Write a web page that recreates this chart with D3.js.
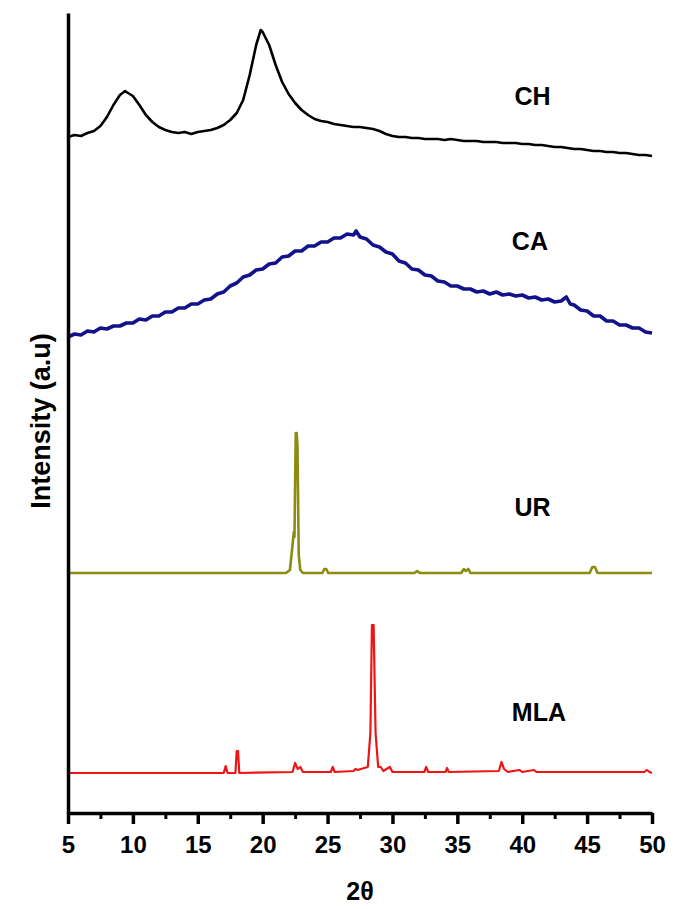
<!DOCTYPE html>
<html>
<head>
<meta charset="utf-8">
<script src="https://cdn.jsdelivr.net/npm/d3@7"></script>
<style>
  html, body { margin: 0; padding: 0; background: #ffffff; }
  svg { display: block; font-family: "Liberation Sans", Arial, sans-serif; }
</style>
</head>
<body>
<svg id="chart" width="673" height="909"></svg>
<script>
// ---------------- DATA (2θ, intensity a.u. incl. stacking offset) ----------------
const seriesNames = ["CH", "CA", "UR", "MLA"];
const xTicks = [5, 10, 15, 20, 25, 30, 35, 40, 45, 50];
const xMinorTicks = [7.5, 12.5, 17.5, 22.5, 27.5, 32.5, 37.5, 42.5, 47.5];

const CH = [
  [5,676],[5.5,678],[6,677],[6.5,680],[7,682],[7.5,687],[8,696],[8.5,708],[9,718],[9.4,722],
  [9.5,721],[10,717],[10.5,708],[11,698],[11.5,691],[12,686],[12.5,683],[13,681],[13.5,680],
  [14,681],[14.5,679],[15,681],[15.5,682],[16,683],[16.5,685],[17,688],[17.5,693],[18,700],
  [18.5,713],[19,738],[19.5,768],[19.85,783],[20,781],[20.5,768],[21,748],[21.5,731],[22,719],
  [22.5,710],[23,703],[23.5,698],[24,694],[24.5,692],[25,691],[25.5,689],[26,688],[26.5,687],
  [27,686],[27.5,686],[28,685],[28.5,684],[29,682],[29.5,679],[30,677],[30.5,676],[31,676],
  [31.5,675],[32,675],[32.5,674],[33,674],[33.5,674],[34,673],[34.5,674],[35,673],[35.5,672],
  [36,672],[36.5,672],[37,671],[37.5,671],[38,671],[38.5,670],[39,670],[39.5,670],[40,669],
  [40.5,669],[41,668],[41.5,668],[42,667],[42.5,666],[43,666],[43.5,665],[44,664],[44.5,664],
  [45,663],[45.5,662],[46,662],[46.5,661],[47,661],[47.5,660],[48,660],[48.5,659],[49,658],
  [49.5,658],[50,657]
];

const CA = [
  [5,476],[5.5,479],[6,478],[6.5,482],[7,481],[7.5,485],[8,484],[8.5,487],[9,487],[9.5,490],
  [10,490],[10.5,494],[11,493],[11.5,497],[12,497],[12.5,501],[13,501],[13.5,505],[14,505],
  [14.5,509],[15,509],[15.5,513],[16,514],[16.5,519],[17,521],[17.5,527],[18,530],[18.5,536],
  [19,538],[19.5,543],[20,544],[20.5,549],[21,550],[21.5,556],[22,557],[22.5,562],[23,562],
  [23.5,567],[24,567],[24.5,571],[25,571],[25.5,575],[26,575],[26.5,579],[27,578],[27.2,582],
  [27.5,576],[28,574],[28.5,568],[29,566],[29.5,561],[30,559],[30.5,552],[31,550],[31.5,544],
  [32,543],[32.5,538],[33,537],[33.5,532],[34,531],[34.5,527],[35,527],[35.5,524],[36,524],
  [36.5,521],[37,522],[37.5,519],[38,521],[38.5,518],[39,519],[39.5,517],[40,518],[40.5,515],
  [41,516],[41.5,513],[42,514],[42.5,511],[43,512],[43.4,516],[43.7,509],[44,508],[44.5,503],
  [45,502],[45.5,497],[46,497],[46.5,492],[47,492],[47.5,488],[48,488],[48.5,485],[49,485],
  [49.5,481],[50,480]
];

const UR = [
  [5,240],[10,240],[15,240],[20,240],[21.8,240],[22.1,243],[22.3,268],[22.4,281],[22.45,276],
  [22.55,380],[22.62,380],[22.68,368],[22.78,258],[22.9,243],[23.1,240],[24.6,240],[24.75,244],
  [24.9,244],[25.05,240],[31.7,240],[31.9,242],[32.1,240],[35.3,240],[35.5,244],[35.65,242],
  [35.85,244],[36.0,240],[45.2,240],[45.4,246],[45.6,246],[45.8,240],[50,240]
];

const MLA = [
  [5,40],[17.0,40],[17.15,47],[17.3,40],[17.9,40],[18.0,62],[18.1,62],[18.2,40],[22.3,41],
  [22.5,50],[22.7,44],[22.9,46],[23.1,41],[25.25,41],[25.4,46],[25.55,41],[27.0,42],[27.15,44],
  [27.3,43],[28.1,46],[28.3,80],[28.42,188],[28.55,188],[28.7,80],[28.9,46],[29.1,46],[29.3,42],
  [29.8,46],[30.0,41],[30.5,41],[32.45,41],[32.6,46],[32.75,41],[34.1,41],[34.2,45],[34.35,41],
  [38.2,42],[38.4,51],[38.6,44],[38.9,41],[39.8,43],[40.0,41],[40.9,43],[41.1,41],[43,41],
  [44.5,41],[47,41],[49.4,41],[49.6,43],[49.8,41],[50,40]
];

const seriesData = [CH, CA, UR, MLA];
const seriesColors = ["#000000", "#12128c", "#8c8c10", "#ee1515"];
const seriesWidths = [2.6, 3.6, 2.6, 2.2];
// label anchor in data coords (2θ, intensity)
const labelPos = [[39.4, 708], [39.2, 563], [39.4, 297], [39.2, 92]];

// ---------------- CHART ----------------
const svg = d3.select("#chart");
const x = d3.scaleLinear().domain([5, 50]).range([68, 652]);
const y = d3.scaleLinear().domain([0, 800]).range([813, 13]);

const line = d3.line().x(d => x(d[0])).y(d => y(d[1]));

seriesData.forEach((s, i) => {
  svg.append("path")
    .datum(s)
    .attr("fill", "none")
    .attr("stroke", seriesColors[i])
    .attr("stroke-width", seriesWidths[i])
    .attr("stroke-linejoin", "round")
    .attr("d", line);
});

seriesNames.forEach((n, i) => {
  svg.append("text")
    .attr("x", x(labelPos[i][0]))
    .attr("y", y(labelPos[i][1]))
    .attr("font-size", 25)
    .attr("font-weight", "bold")
    .attr("fill", "#000")
    .text(n);
});

// Minor ticks
const xMinor = svg.append("g")
  .attr("transform", `translate(0,${y(0)})`)
  .call(d3.axisBottom(x).tickValues(xMinorTicks).tickSize(6).tickSizeOuter(0).tickFormat(""));
xMinor.select(".domain").remove();
xMinor.selectAll("line").attr("stroke", "#000").attr("stroke-width", 3);

// Major x axis
const xAxis = svg.append("g")
  .attr("transform", `translate(0,${y(0)})`)
  .call(d3.axisBottom(x).tickValues(xTicks).tickSize(11).tickSizeOuter(0).tickPadding(12).tickFormat(d3.format("d")));
xAxis.select(".domain").attr("stroke", "#000").attr("stroke-width", 3.5);
xAxis.selectAll(".tick line").attr("stroke", "#000").attr("stroke-width", 3.5);
xAxis.selectAll(".tick text")
  .attr("font-size", 24)
  .attr("font-weight", "bold")
  .attr("font-family", "'Liberation Sans', Arial, sans-serif")
  .attr("fill", "#000");

// Y axis (no ticks)
const yAxis = svg.append("g")
  .attr("transform", `translate(${x(5)},0)`)
  .call(d3.axisLeft(y).tickValues([]).tickSizeOuter(0));
yAxis.select(".domain").attr("stroke", "#000").attr("stroke-width", 3.5);

// Axis titles
svg.append("text")
  .attr("x", 360).attr("y", 900)
  .attr("text-anchor", "middle")
  .attr("font-size", 25).attr("font-weight", "bold")
  .text("2θ");

svg.append("text")
  .attr("transform", "translate(50,421) rotate(-90)")
  .attr("text-anchor", "middle")
  .attr("font-size", 27).attr("font-weight", "bold")
  .text("Intensity (a.u)");
</script>
</body>
</html>
